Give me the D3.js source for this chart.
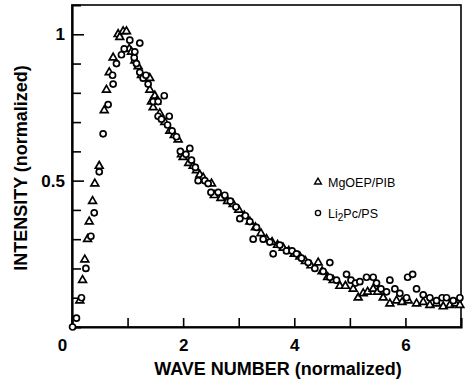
<!DOCTYPE html>
<html>
<head>
<meta charset="utf-8">
<script src="https://cdn.jsdelivr.net/npm/d3@7"></script>
<style>
  body { margin: 0; background: #fff; }
  svg text { font-family: "Liberation Sans", Arial, Helvetica, sans-serif; fill: #000; }
</style>
</head>
<body>
<svg id="chart" width="467" height="383"></svg>
<script>
// MgOEP/PIB (triangles): [wave number, intensity]
const mgoepX = [0.14, 0.19, 0.23, 0.28, 0.31, 0.37, 0.41, 0.49, 0.58, 0.62, 0.67, 0.74, 0.83, 0.86,
  0.92, 0.98, 1.03, 1.07, 1.13, 1.19, 1.25, 1.40, 1.40, 1.43, 1.46, 1.49, 1.52, 1.58, 1.67, 1.76,
  1.84, 1.91, 1.97, 2.00, 2.10, 2.18, 2.24, 2.30, 2.36, 2.51, 2.56, 2.68, 2.80, 2.90, 3.00, 3.10,
  3.20, 3.30, 3.40, 3.50, 3.60, 3.70, 3.80, 3.90, 4.00, 4.10, 4.20, 4.30, 4.43, 4.50, 4.60, 4.70,
  4.82, 4.92, 5.06, 5.15, 5.24, 5.32, 5.42, 5.50, 5.60, 5.72, 5.84, 5.94, 6.05, 6.20, 6.32, 6.44,
  6.56, 6.68, 6.80, 6.90, 6.98]
const mgoepY = [0.09, 0.16, 0.23, 0.30, 0.36, 0.43, 0.49, 0.55, 0.74, 0.81, 0.87, 0.92, 1.00, 0.99,
  1.01, 1.01, 0.95, 0.94, 0.91, 0.89, 0.86, 0.85, 0.81, 0.77, 0.75, 0.79, 0.77, 0.73, 0.70, 0.67,
  0.655, 0.64, 0.59, 0.58, 0.56, 0.55, 0.535, 0.52, 0.51, 0.49, 0.45, 0.44, 0.43, 0.42, 0.40, 0.38,
  0.36, 0.34, 0.32, 0.30, 0.29, 0.28, 0.27, 0.26, 0.25, 0.24, 0.225, 0.21, 0.22, 0.19, 0.17, 0.16,
  0.14, 0.14, 0.13, 0.10, 0.115, 0.12, 0.13, 0.12, 0.10, 0.08, 0.09, 0.085, 0.09, 0.08, 0.085, 0.075,
  0.08, 0.07, 0.075, 0.08, 0.075]

// Li2Pc/PS (circles)
const li2pcX = [0.01, 0.08, 0.17, 0.25, 0.34, 0.40, 0.49, 0.56, 0.65, 0.74, 0.73, 0.80, 0.89, 0.94,
  1.04, 1.12, 1.13, 1.16, 1.22, 1.22, 1.28, 1.33, 1.37, 1.46, 1.55, 1.55, 1.66, 1.61, 1.75, 1.72,
  1.80, 1.88, 1.95, 2.05, 2.12, 2.15, 2.22, 2.27, 2.39, 2.45, 2.50, 2.63, 2.75, 2.85, 2.95, 3.02,
  3.12, 3.20, 3.26, 3.32, 3.44, 3.56, 3.62, 3.74, 3.86, 3.96, 4.04, 4.13, 4.25, 4.37, 4.52, 4.64,
  4.64, 4.76, 4.94, 5.02, 5.10, 5.18, 5.30, 5.42, 5.48, 5.56, 5.66, 5.72, 5.81, 5.90, 6.02, 6.04,
  6.13, 6.20, 6.32, 6.44, 6.56, 6.66, 6.74, 6.86, 6.98]
const li2pcY = [0.00, 0.03, 0.10, 0.20, 0.31, 0.39, 0.53, 0.66, 0.76, 0.83, 0.86, 0.90, 0.93, 0.95,
  0.98, 0.92, 0.94, 0.90, 0.97, 0.87, 0.85, 0.86, 0.83, 0.77, 0.77, 0.72, 0.79, 0.71, 0.72, 0.69,
  0.67, 0.65, 0.60, 0.59, 0.61, 0.57, 0.545, 0.50, 0.50, 0.49, 0.46, 0.46, 0.45, 0.43, 0.41, 0.37,
  0.38, 0.36, 0.30, 0.34, 0.30, 0.29, 0.25, 0.28, 0.26, 0.26, 0.25, 0.235, 0.22, 0.20, 0.19, 0.22,
  0.17, 0.16, 0.18, 0.16, 0.15, 0.155, 0.17, 0.17, 0.15, 0.13, 0.12, 0.16, 0.13, 0.115, 0.10, 0.17,
  0.18, 0.13, 0.11, 0.10, 0.09, 0.10, 0.10, 0.09, 0.10]

const xTicks = [1, 2, 3, 4, 5, 6]
const xLabels = [0, 2, 4, 6]
const yTicks = [0.1, 0.2, 0.3, 0.4, 0.5, 0.6, 0.7, 0.8, 0.9, 1.0]
const yLabels = [0.5, 1]
const legendNames = ["MgOEP/PIB", "Li2Pc/PS"]

const margins = {left: 72, top: 5, right: 6, bottom: 56}
const width = 467, height = 383
const innerWidth = width - margins.left - margins.right
const innerHeight = height - margins.top - margins.bottom

const svg = d3.select("#chart")
const g = svg.append("g")
  .attr("transform", `translate(${margins.left}, ${margins.top})`)

const xScale = d3.scaleLinear().domain([0, 7]).range([0, innerWidth])
const yScale = d3.scaleLinear().domain([0, 1.1]).range([innerHeight, 0])
const isLabel = d => yLabels.includes(+d.toFixed(1))

// frame
g.append("rect")
  .attr("width", innerWidth)
  .attr("height", innerHeight)
  .attr("fill", "none")
  .attr("stroke", "#000")
  .attr("stroke-width", 1.6)

// y axis: inward ticks, labels only on 0.5 and 1
const yAxis = g.append("g")
  .call(d3.axisLeft(yScale).tickValues(yTicks).tickSize(-9).tickPadding(7)
    .tickFormat(d => isLabel(d) ? d3.format("")(+d.toFixed(1)) : ""))
yAxis.select(".domain").attr("stroke-width", 2.2)
yAxis.selectAll(".tick line")
  .attr("stroke-width", 1.6)
  .attr("x2", d => isLabel(d) ? 12 : 9)
yAxis.selectAll(".tick text")
  .filter(d => !isLabel(d)).remove()
yAxis.selectAll(".tick text")
  .attr("font-size", 17).attr("font-weight", "bold")

// x axis: inward ticks at integers, labels at even numbers
const xAxis = g.append("g")
  .attr("transform", `translate(0, ${innerHeight})`)
  .call(d3.axisBottom(xScale).tickValues([0, ...xTicks]).tickSize(-9).tickPadding(12)
    .tickFormat(d => xLabels.includes(d) ? d : ""))
xAxis.select(".domain").attr("stroke-width", 2.2)
xAxis.selectAll(".tick line")
  .attr("stroke-width", 1.6)
  .attr("display", d => d === 0 ? "none" : null)
xAxis.selectAll(".tick text")
  .filter(d => !xLabels.includes(d)).remove()
xAxis.selectAll(".tick text")
  .attr("font-size", 17).attr("font-weight", "bold")
  .attr("dx", d => d === 0 ? -10 : 0)
g.selectAll(".domain").attr("stroke", "#000")
g.selectAll(".tick line").attr("stroke", "#000")

// axis titles
svg.append("text")
  .attr("x", 278).attr("y", 375)
  .attr("text-anchor", "middle")
  .attr("font-size", 18).attr("font-weight", "bold")
  .text("WAVE NUMBER (normalized)")

svg.append("text")
  .attr("transform", "translate(27, 168) rotate(-90)")
  .attr("text-anchor", "middle")
  .attr("font-size", 18).attr("font-weight", "bold")
  .text("INTENSITY (normalized)")

// markers
const triangle = d3.symbol().type(d3.symbolTriangle).size(26)

g.append("g").selectAll("path")
  .data(d3.zip(mgoepX, mgoepY))
  .join("path")
  .attr("d", triangle)
  .attr("transform", d => `translate(${xScale(d[0])}, ${yScale(d[1])})`)
  .attr("fill", "#fff").attr("stroke", "#000").attr("stroke-width", 1.7)

g.append("g").selectAll("circle")
  .data(d3.zip(li2pcX, li2pcY))
  .join("circle")
  .attr("cx", d => xScale(d[0]))
  .attr("cy", d => yScale(d[1]))
  .attr("r", 3)
  .attr("fill", "#fff").attr("stroke", "#000").attr("stroke-width", 1.7)

// legend
const legend = svg.append("g").attr("transform", "translate(318, 182)")
legend.append("path")
  .attr("d", d3.symbol().type(d3.symbolTriangle).size(20))
  .attr("fill", "#fff").attr("stroke", "#000").attr("stroke-width", 1.4)
legend.append("text")
  .attr("x", 10).attr("y", 5)
  .attr("font-size", 12.5)
  .text(legendNames[0])
legend.append("circle")
  .attr("cy", 31).attr("r", 2.6)
  .attr("fill", "#fff").attr("stroke", "#000").attr("stroke-width", 1.4)
const li = legend.append("text")
  .attr("x", 10).attr("y", 36)
  .attr("font-size", 12.5)
li.append("tspan").text("Li")
li.append("tspan").attr("dy", 3).attr("font-size", 10).text("2")
li.append("tspan").attr("dy", -3).text("Pc/PS")
</script>
</body>
</html>
